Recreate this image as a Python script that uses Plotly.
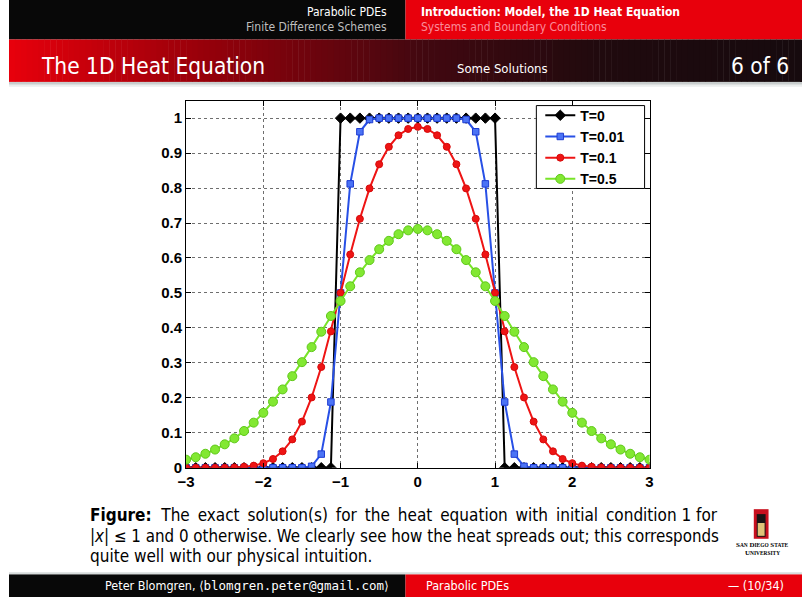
import plotly.graph_objects as go

# ---------------- data ----------------
x_vals = [-3, -2.875, -2.75, -2.625, -2.5, -2.375, -2.25, -2.125, -2, -1.875, -1.75, -1.625,
          -1.5, -1.375, -1.25, -1.125, -1, -0.875, -0.75, -0.625, -0.5, -0.375, -0.25, -0.125,
          0, 0.125, 0.25, 0.375, 0.5, 0.625, 0.75, 0.875, 1, 1.125, 1.25, 1.375, 1.5, 1.625,
          1.75, 1.875, 2, 2.125, 2.25, 2.375, 2.5, 2.625, 2.75, 2.875, 3]

u_T0 = [0, 0, 0, 0, 0, 0, 0, 0, 0, 0, 0, 0, 0, 0, 0, 0,
        1, 1, 1, 1, 1, 1, 1, 1, 1, 1, 1, 1, 1, 1, 1, 1, 1,
        0, 0, 0, 0, 0, 0, 0, 0, 0, 0, 0, 0, 0, 0, 0, 0]

u_T001 = [0, 0, 0, 0, 0, 0, 0, 0, 0, 0, 0, 0, 0, 0.004, 0.039, 0.188, 0.5, 0.812, 0.961, 0.996,
          1, 1, 1, 1, 1, 1, 1, 1, 1, 0.996, 0.961, 0.812, 0.5, 0.188, 0.039, 0.004,
          0, 0, 0, 0, 0, 0, 0, 0, 0, 0, 0, 0, 0]

u_T01 = [0, 0, 0, 0, 0, 0.001, 0.003, 0.006, 0.013, 0.025, 0.047, 0.081, 0.132, 0.201, 0.288,
         0.390, 0.500, 0.610, 0.712, 0.799, 0.868, 0.918, 0.951, 0.969, 0.975, 0.969, 0.951,
         0.918, 0.868, 0.799, 0.712, 0.610, 0.500, 0.390, 0.288, 0.201, 0.132, 0.081, 0.047,
         0.025, 0.013, 0.006, 0.003, 0.001, 0, 0, 0, 0, 0]

u_T05 = [0.023, 0.030, 0.040, 0.052, 0.067, 0.084, 0.105, 0.129, 0.157, 0.189, 0.224, 0.262,
         0.302, 0.345, 0.389, 0.434, 0.477, 0.519, 0.559, 0.594, 0.625, 0.649, 0.668, 0.679,
         0.683, 0.679, 0.668, 0.649, 0.625, 0.594, 0.559, 0.519, 0.477, 0.434, 0.389, 0.345,
         0.302, 0.262, 0.224, 0.189, 0.157, 0.129, 0.105, 0.084, 0.067, 0.052, 0.040, 0.030,
         0.023]

series_names = ["T=0", "T=0.01", "T=0.1", "T=0.5"]
x_ticks = [-3, -2, -1, 0, 1, 2, 3]
y_ticks = [0, 0.1, 0.2, 0.3, 0.4, 0.5, 0.6, 0.7, 0.8, 0.9, 1]
y_tick_text = ["0", "0.1", "0.2", "0.3", "0.4", "0.5", "0.6", "0.7", "0.8", "0.9", "1"]

# ---------------- page geometry ----------------
W, H = 806, 605
def px(x):
    return x / W
def py(y):
    return 1 - y / H

SANS = "DejaVu Sans Condensed, DejaVu Sans, sans-serif"
AX = "Liberation Sans, Arial, sans-serif"

fig = go.Figure()

styles = [
    dict(color="black", symbol="diamond", size=8, fill="black", edge="black"),
    dict(color="rgb(40,80,230)", symbol="square", size=6.5, fill="rgb(75,115,245)", edge="rgb(30,60,210)"),
    dict(color="rgb(238,20,20)", symbol="circle", size=7, fill="rgb(238,20,20)", edge="rgb(215,10,10)"),
    dict(color="rgb(120,228,40)", symbol="circle", size=9, fill="rgb(130,232,50)", edge="rgb(95,200,25)"),
]
for name, yv, st in zip(series_names, [u_T0, u_T001, u_T01, u_T05], styles):
    fig.add_trace(go.Scatter(
        x=x_vals, y=yv, name=name, mode="lines+markers",
        line=dict(color=st["color"], width=2),
        marker=dict(symbol=st["symbol"], size=st["size"], color=st["fill"],
                    line=dict(color=st["edge"], width=1)),
    ))

fig.update_layout(
    autosize=True,
    margin=dict(l=0, r=0, t=0, b=0),
    paper_bgcolor="white", plot_bgcolor="white",
    showlegend=True,
    legend=dict(x=px(540), xanchor="left", y=py(101), yanchor="top",
                bgcolor="rgba(0,0,0,0)", borderwidth=0,
                font=dict(family=AX, size=14, color="black", weight="bold"),
                itemwidth=30, tracegroupgap=0),
    xaxis=dict(domain=[px(180), px(651)], range=[-3, 3], tickvals=x_ticks,
               ticks="inside", ticklen=5, tickcolor="black", showline=True, linecolor="black",
               linewidth=1, mirror="ticks", showgrid=True, gridcolor="rgb(110,110,110)",
               griddash="dot", gridwidth=1, zeroline=False,
               tickfont=dict(family=AX, size=15, color="black", weight="bold")),
    yaxis=dict(domain=[py(474), py(102)], range=[0, 1.05], tickvals=y_ticks, ticktext=y_tick_text,
               ticks="inside", ticklen=5, tickcolor="black", showline=True, linecolor="black",
               linewidth=1, mirror="ticks", showgrid=True, gridcolor="rgb(110,110,110)",
               griddash="dot", gridwidth=1, zeroline=False,
               tickfont=dict(family=AX, size=15, color="black", weight="bold")),
)

shapes = []
def rect(x0, y0, x1, y1, color, layer="below", line=None):
    shapes.append(dict(type="rect", xref="paper", yref="paper", x0=px(x0), x1=px(x1),
                       y0=py(y1), y1=py(y0), fillcolor=color,
                       line=line if line else dict(width=0), layer=layer))

# header band
rect(0, 0, 403, 40, "rgb(8,8,8)")
rect(403, 0, W, 40, "rgb(232,0,12)")
# title bar gradient (strips)
stops = [(0, (232, 0, 12)), (200, (150, 0, 10)), (420, (66, 8, 16)), (600, (32, 10, 14)), (806, (22, 10, 14))]
def grad(xp):
    for (a, ca), (b, cb) in zip(stops[:-1], stops[1:]):
        if a <= xp <= b:
            t = (xp - a) / (b - a)
            return tuple(int(round(ca[i] + t * (cb[i] - ca[i]))) for i in range(3))
    return stops[-1][1]
step = 6
for xs in range(0, W, step):
    c = grad(xs + step / 2)
    rect(xs, 40, min(xs + step + 0.5, W), 83, "rgb(%d,%d,%d)" % c)
rect(0, 83, W, 86, "rgb(200,205,205)")
rect(0, 86, W, 88, "rgb(235,238,238)")
# footer
rect(0, 582, 403, H, "rgb(8,8,8)")
rect(403, 582, W, H, "rgb(232,0,12)")
rect(0, 580, W, 582, "rgb(215,220,220)")
# logo
rect(757, 516, 772, 546, "rgb(200,16,30)")
rect(760, 521, 769, 544, "rgb(25,20,20)")
rect(761, 530, 768, 543, "rgb(225,195,120)")
# legend box
rect(536, 107, 646, 191, "white", layer="above", line=dict(color="black", width=1))
fig.update_layout(shapes=shapes)

ann = []
def text(x, y, s, size, color="white", anchor="left", family=SANS, yanchor="middle"):
    ann.append(dict(x=px(x), y=py(y), xref="paper", yref="paper", text=s, showarrow=False,
                    xanchor=anchor, yanchor=yanchor,
                    font=dict(family=family, size=size, color=color)))

text(386, 12, "Parabolic PDEs", 12, anchor="right")
text(386, 27, "Finite Difference Schemes", 12, color="rgb(190,190,190)", anchor="right")
text(417, 12, "<b>Introduction: Model, the 1D Heat Equation</b>", 12)
text(417, 27, "Systems and Boundary Conditions", 12, color="rgb(250,140,155)")
text(30, 67, "The 1D Heat Equation", 22.5)
text(453, 69, "Some Solutions", 13)
text(795, 67, "6 of 6", 22.5, anchor="right")

ts = " \u2009"
line1 = ("<b>Figure:</b>  The" + ts + "exact" + ts + "solution(s)" + ts + "for" + ts + "the" + ts +
         "heat" + ts + "equation" + ts + "with" + ts + "initial" + ts + "condition 1 for")
text(80, 522, line1, 17, color="black")
text(80, 543, "|<i>x</i>| ≤ 1 and 0 otherwise. We clearly see how the heat spreads out; this corresponds", 16.8, color="black")
text(80, 563, "quite well with our physical intuition.", 17, color="black")

text(96, 593, "Peter Blomgren, ⟨<span style='font-family:DejaVu Sans Mono'>blomgren.peter@gmail.com</span>⟩", 12.5)
text(422, 593, "Parabolic PDEs", 12.5)
text(790, 593, "— (10/34)", 12.5, anchor="right")

sc = "<span style='font-size:5.4px'>"
text(765.5, 552, "<b>S" + sc + "AN</span> D" + sc + "IEGO</span> S" + sc + "TATE</span></b>", 7,
     color="black", anchor="center", family="Liberation Serif, serif")
text(765.5, 560, "<b>U" + sc + "NIVERSITY</span></b>", 7, color="black", anchor="center",
     family="Liberation Serif, serif")
fig.update_layout(annotations=ann)

post = ("document.documentElement.style.margin='0px';document.body.style.margin='0px';"
        "document.body.style.overflow='hidden';document.documentElement.style.overflow='hidden';"
        "var gd=document.getElementById('{plot_id}');if(gd){Plotly.Plots.resize(gd);}")
fig.write_html("out.html", default_width="100vw", default_height="100vh",
               config={"displayModeBar": False, "responsive": True},
               post_script=post)
